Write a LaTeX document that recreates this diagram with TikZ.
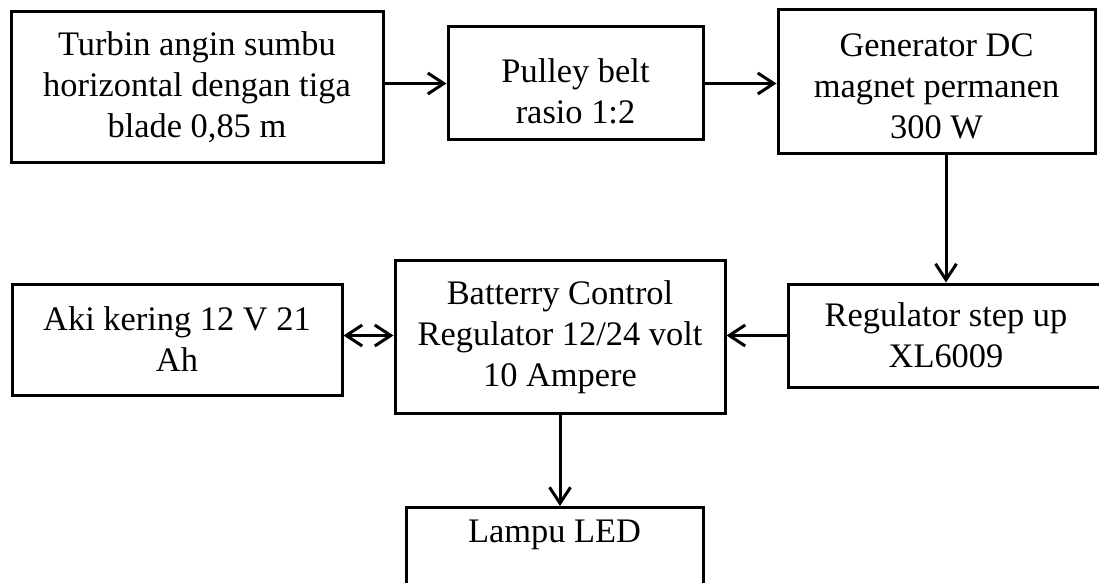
\documentclass[tikz,border=0pt]{standalone}
\usepackage{fontspec}
\setmainfont{Liberation Serif}
\usetikzlibrary{arrows.meta}
\tikzset{
  blk/.style={draw=black, line width=1.5pt, rectangle, align=center, inner sep=0pt,
    font=\fontsize{17.2}{20.5}\selectfont},
  arr/.style={line width=1.5pt, -{Straight Barb[length=8pt,width=10.5pt]}},
  darr/.style={line width=1.5pt, {Straight Barb[length=8pt,width=10.5pt]}-{Straight Barb[length=8pt,width=10.5pt]}},
}
\begin{document}
\begin{tikzpicture}[x=0.5pt,y=-0.5pt]
\useasboundingbox (0,0) rectangle (1099,583);
\node[blk, minimum width=186pt, minimum height=75.5pt] (turbin) at (197,87.5)
  {Turbin angin sumbu\\horizontal dengan tiga\\blade 0,85 m};
\node[blk, minimum width=127.5pt, minimum height=56.5pt] (pulley) at (575.5,83.5)
  {\rule{0pt}{20pt}Pulley belt\\rasio 1:2};
\node[blk, minimum width=158.5pt, minimum height=72pt] (generator) at (936.5,82)
  {\rule{0pt}{15.7pt}Generator DC\\magnet permanen\\300 W};
\node[blk, minimum width=158pt, minimum height=51.5pt] (regulator) at (946,335.5)
  {Regulator step up\\XL6009};
\node[blk, minimum width=165pt, minimum height=76pt] (battery) at (560,337)
  {Batterry Control\\Regulator 12/24 volt\\10 Ampere};
\node[blk, minimum width=165pt, minimum height=55.5pt] (aki) at (177,339.5)
  {Aki kering 12 V 21\\Ah};
\node[blk, minimum width=148.5pt, anchor=north] (lampu) at (554.5,506)
  {\rule[-50pt]{0pt}{67.5pt}Lampu LED};
\draw[arr] (turbin.east |- pulley.west) -- (pulley.west);
\draw[arr] (pulley.east) -- (pulley.east -| generator.west);
\draw[arr] (regulator.north |- generator.south) -- (regulator.north);
\draw[arr] (regulator.west) -- (regulator.west -| battery.east);
\draw[darr] (aki.east |- regulator.west) -- (battery.west |- regulator.west);
\draw[arr] (battery.south) -- (battery.south |- lampu.north);
\end{tikzpicture}
\end{document}
